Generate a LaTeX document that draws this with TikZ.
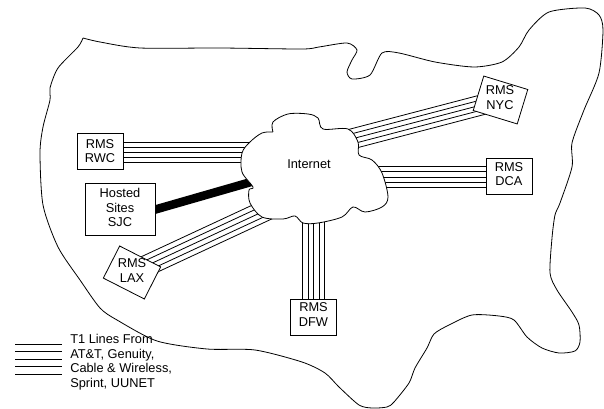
\documentclass[tikz,border=0pt]{standalone}
\usepackage{fontspec}
\setmainfont{Liberation Sans}
\usetikzlibrary{calc, backgrounds}
% five parallel T1 lines between two points, #3 and #4 is the spacing
\newcommand{\tlines}[4]{%
  \foreach \k in {-2,...,2}
    \draw[tline] ($(#1)+\k*(#3,#4)$) -- ($(#2)+\k*(#3,#4)$);
}

\begin{document}
\begin{tikzpicture}[
          x=0.75pt, y=-0.75pt,
          box/.style={rectangle, draw, fill=white, line width=0.6pt, inner sep=0pt,
                      minimum width=34.5pt, minimum height=27pt},
          lbl/.style={font=\fontsize{9.6}{10.9}\selectfont, align=center, inner sep=0pt},
          tline/.style={line width=0.6pt},
          outline/.style={line width=0.6pt, line join=round}
        ]
        \useasboundingbox (0,0) rectangle (604,409);

        % Map of the country
        \begin{scope}[on background layer]
        \draw[outline] plot[smooth, tension=0.45] coordinates {
              (83,38) (100,42) (140,48) (220,48) (302,49) (319,47) (347,43) (357,50)
              (352,60) (347,72) (352,79) (370,75) (382,53) (399,53) (435,62) (474,67)
              (502,62) (519,47) (529,30) (549,12) (585,8) (599,15) (603,30) (599,73)
              (584,110) (572,143) (572,167) (560,203) (555,215) (552,238) (550,273)
              (557,290) (572,312) (579,325) (580,342) (575,351) (559,353) (542,348)
              (527,337) (514,320) (499,316) (472,315) (449,325) (434,334) (427,348)
              (415,368) (409,383) (394,402) (387,407) (372,408) (359,405) (339,387)
              (325,373) (302,362) (255,350) (207,349) (157,341) (117,320) (100,308)
              (80,280) (58,247) (43,205) (40,153) (43,127) (50,100) (50,88) (58,68)
              (78,47) (83,38)};
        \end{scope}

        % Sites
        \node[box] (rwc) at (100.5,151) {};
        \node[box, minimum width=52.5pt, minimum height=38.5pt] (sjc) at (120,209.5) {};
        \node[box, rotate=-27] (lax) at (132,272.5) {};
        \node[box] (dfw) at (313.5,317) {};
        \node[box] (dca) at (509.5,176) {};
        \node[box, rotate=-17] (nyc) at (500.5,100) {};

        \node[lbl] (rwclbl) at (100,151) {RMS\\RWC};
        \node[lbl] (sjclbl) at (120,207.5) {Hosted\\Sites\\SJC};
        \node[lbl] (laxlbl) at (132,270.5) {RMS\\LAX};
        \node[lbl] (dfwlbl) at (313.5,314.5) {RMS\\DFW};
        \node[lbl] (dcalbl) at (509,174) {RMS\\DCA};
        \node[lbl] (nyclbl) at (500,97.5) {RMS\\NYC};

        % Points inside the cloud where the lines end
        \coordinate (inrwc) at (270,152.5);
        \coordinate (indca) at (350,177);
        \coordinate (indfw) at (313.5,190);
        \coordinate (inlax) at (275,206);
        \coordinate (innyc) at (340,142);
        \coordinate (insjc) at (265,178);

        % T1 lines
        \begin{scope}[on background layer]
        \tlines{rwc |- inrwc}{inrwc}{0}{5.1}
        \tlines{dca |- indca}{indca}{0}{5.1}
        \tlines{dfw}{indfw}{5.6}{0}
        \tlines{lax}{inlax}{2.2}{4.7}
        \tlines{nyc}{innyc}{1.3}{4.8}
        \draw[line width=6.4pt] ($(sjc.east)!-0.1!(insjc)$) -- (insjc);
        \end{scope}

        % Cloud
        \draw[outline, fill=white] plot[smooth, tension=0.55] coordinates {
              (273,132) (273,122) (288,114) (308,114) (318,118) (323,129) (348,129)
              (358,142) (359,155) (372,160) (382,173) (388,197) (382,207) (365,212)
              (353,207) (342,217) (318,223) (303,223) (295,216) (283,219) (262,217)
              (250,203) (249,190) (253,187) (242,172) (242,153) (250,142) (262,133)
              (273,132)};
        \node[lbl] (inet) at (309,164) {Internet};

        % Legend
        \coordinate (lega) at (15,359.3);
        \coordinate (legb) at (62,359.3);
        \tlines{lega}{legb}{0}{7.4}
        \node[lbl, align=left, anchor=west] (leglbl) at (70,362)
              {T1 Lines From\\AT\&T, Genuity,\\Cable \& Wireless,\\Sprint, UUNET};
      \end{tikzpicture}
\end{document}
